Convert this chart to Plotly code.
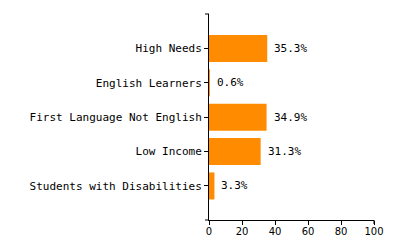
import plotly.graph_objects as go

categories = ["High Needs", "English Learners", "First Language Not English", "Low Income", "Students with Disabilities"]
values = [35.3, 0.6, 34.9, 31.3, 3.3]
value_labels = [f"{v:.1f}%" for v in values]
x_ticks = [0, 20, 40, 60, 80, 100]

MONO = "DejaVu Sans Mono"

fig = go.Figure()
fig.add_trace(go.Bar(
    x=values, y=categories, orientation="h",
    marker=dict(color="#FF8C00", line=dict(width=0)),
    hoverinfo="skip",
))

for c, v, t in zip(categories, values, value_labels):
    fig.add_annotation(x=v, y=c, text=t, showarrow=False, xanchor="left",
                       yanchor="middle", xshift=5,
                       font=dict(family=MONO, size=11, color="#000"))

# d3-style outer ticks at axis ends
fig.add_shape(type="line", xref="x domain", yref="y domain", xsizemode="pixel",
              xanchor=0, x0=-4, x1=0, y0=1, y1=1, line=dict(color="#000", width=1))
fig.add_shape(type="line", xref="x domain", yref="y domain", xsizemode="pixel",
              xanchor=0, x0=-4, x1=0, y0=0, y1=0, line=dict(color="#000", width=1))
fig.add_shape(type="line", xref="x domain", yref="y domain", ysizemode="pixel",
              yanchor=0, y0=-4, y1=0, x0=1, x1=1, line=dict(color="#000", width=1))

fig.update_layout(
    width=400, height=250,
    margin=dict(l=209, r=26, t=14, b=30),
    paper_bgcolor="white", plot_bgcolor="white",
    bargap=0.215, showlegend=False,
    xaxis=dict(range=[0, 100], tickvals=x_ticks, showgrid=False, zeroline=False,
               showline=True, linecolor="#000", linewidth=1,
               ticks="outside", ticklen=4, tickcolor="#000", ticklabelstandoff=-2,
               tickfont=dict(family="DejaVu Sans", size=10, color="#000")),
    yaxis=dict(categoryorder="array", categoryarray=categories[::-1],
               range=[-0.99, 5.0], showgrid=False, zeroline=False,
               showline=True, linecolor="#000", linewidth=1,
               ticks="outside", ticklen=4, tickcolor="#000",
               tickfont=dict(family=MONO, size=11, color="#000")),
)

fig.write_html("out.html")
